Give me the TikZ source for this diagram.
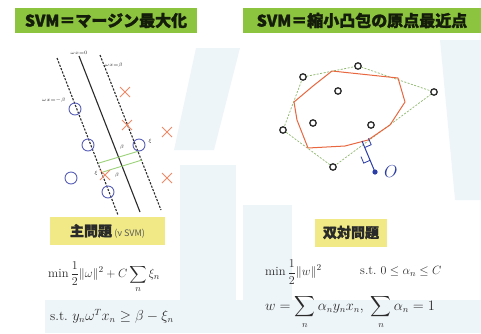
\documentclass[tikz,border=0pt]{standalone}
\usepackage{amsmath}
\usepackage{fontspec}
\usepackage{tikz}
\usetikzlibrary{calc,positioning}
\newfontfamily\jpfont{Noto Sans CJK JP}[FakeBold=1.6]
\newfontfamily\jplight{Noto Sans CJK JP}
\definecolor{titlegreen}{HTML}{8DC43F}
\definecolor{titleink}{HTML}{141C0A}
\definecolor{probyellow}{HTML}{F0E985}
\definecolor{wmblue}{HTML}{EEF5F8}
\definecolor{pointblue}{HTML}{5A5FB8}
\definecolor{crossred}{HTML}{EE8A66}
\definecolor{marginline}{HTML}{9BD27A}
\definecolor{hullred}{HTML}{E8673F}
\definecolor{hullgreen}{HTML}{8CB86A}
\definecolor{originblue}{HTML}{2B3DA6}
\definecolor{inkgray}{HTML}{2A2A2A}
\definecolor{notegray}{HTML}{5A5A5A}
\tikzset{
  titlebar/.style={
    fill=titlegreen,
    text=titleink,
    minimum height=25pt,
    inner sep=0pt,
    font=\jpfont\bfseries\fontsize{16}{18}\selectfont
  },
  probbar/.style={
    fill=probyellow,
    text=inkgray,
    minimum height=28pt,
    inner sep=0pt,
    font=\jpfont\bfseries\fontsize{14}{16}\selectfont
  },
  hyperdash/.style={draw=inkgray, line width=1.1pt, dash pattern=on 2.2pt off 1.4pt},
  hypersolid/.style={draw=inkgray, line width=1.1pt},
  classo/.style={draw=pointblue, line width=0.9pt},
  classx/.style={draw=crossred, line width=0.9pt},
  margingreen/.style={draw=marginline, line width=0.9pt},
  tinylabel/.style={font=\fontsize{5}{6}\selectfont, text=inkgray, inner sep=0.5pt},
  hullpoint/.style={draw=inkgray, line width=1.3pt},
  convexhull/.style={draw=hullgreen, line width=0.7pt, dash pattern=on 2pt off 1.5pt},
  reducedhull/.style={draw=hullred, line width=1pt, line join=round},
  perpline/.style={draw=originblue, line width=1pt},
  formula/.style={anchor=west, text=inkgray, inner sep=0pt, font=\fontsize{12.5}{14}\selectfont}
}

\begin{document}
\begin{tikzpicture}[x=1pt, y=-1pt]
  \useasboundingbox (0,0) rectangle (481,333);
  \fill[white] (0,0) rectangle (481,333);
  % faint background watermark
  \fill[wmblue] (196,48) -- (240,48) -- (214,150) -- (174,150) -- cycle;
  \fill[wmblue] (180,165) -- (236,165) -- (236,333) -- (180,333) -- cycle;
  \fill[wmblue] (243,205) -- (292,205) -- (292,333) -- (243,333) -- cycle;
  \fill[wmblue] (45,300) -- (481,300) -- (481,333) -- (45,333) -- cycle;
  \fill[wmblue] (440,40) -- (481,40) -- (481,200) -- (455,200) -- cycle;

  % titles
  \node[titlebar, minimum width=182pt] (titlemargin) at (106,20.5) {SVM＝マージン最大化};
  \node[titlebar, minimum width=238pt] (titlehull) at (362,20.5) {SVM＝縮小凸包の原点最近点};

  % margin picture
  \coordinate (lminusA) at (57,58);  \coordinate (lminusB) at (118,215);
  \coordinate (lzeroA) at (79,56);   \coordinate (lzeroB) at (140,212);
  \coordinate (lplusA) at (100,55);  \coordinate (lplusB) at (161,210);
  \draw[hyperdash] (lminusA) -- (lminusB);
  \draw[hypersolid] (lzeroA) -- (lzeroB);
  \draw[hyperdash] (lplusA) -- (lplusB);
  \node[tinylabel, above=0.5pt of lzeroA] (labzero) {$\omega x{=}0$};
  \node[tinylabel, right=4pt of lplusA, yshift=-10pt] (labplus) {$\omega x{=}\beta$};
  \node[tinylabel, anchor=east] (labminus) at (66,100) {$\omega x{=}{-}\beta$};
  \draw[margingreen] (99,163) -- (139,151);
  \draw[margingreen] (103,172) -- (142,160);
  \node[tinylabel] (betaup) at (122,147) {$\beta$};
  \node[tinylabel] (betalow) at (117,175) {$\beta$};
  \foreach \x/\y in {75/109, 88/145, 71/178, 108/192, 139/145}
    \draw[classo] (\x,\y) circle (6);
  \foreach \x/\y in {125/92, 127/125, 167/132, 167/178, 105/175}
    \draw[classx] (\x-5,\y-5) -- (\x+5,\y+5) (\x-5,\y+5) -- (\x+5,\y-5);
  \node[tinylabel] (xiright) at (150,141) {$\xi$};
  \node[tinylabel] (xileft) at (96,173) {$\xi$};

  % hull picture
  \foreach \n/\x/\y in {1/303/77, 2/358/66, 3/434/92, 4/338/91, 5/313/123, 6/371/125, 7/283/130, 8/333/167}
    \coordinate (p\n) at (\x,\y);
  \draw[convexhull] (p1) -- (p2) -- (p3) -- (p8) -- (p7) -- cycle;
  \draw[reducedhull] (332,71) -- (398,78) -- (405,102) -- (390,125) -- (368,140) -- (345,146)
    -- (308,148) -- (297,120) -- (294,102) -- (313,86) -- cycle;
  \foreach \n in {1,...,8}
    \draw[hullpoint, fill=white] (p\n) circle (3.2);
  \coordinate (origin) at (375,172);
  \coordinate (foot) at (362,141);
  \draw[perpline] (origin) -- (foot);
  \draw[perpline, line width=0.8pt] (368.5,138.3) -- (371.2,144.7) -- (364.7,147.5);
  \draw[perpline, line width=0.8pt] (361.0,156.6) -- (363.7,163.1) -- (370.1,160.3);
  \fill[originblue] (origin) circle (2.6);
  \node[text=originblue, font=\fontsize{16}{18}\selectfont, anchor=west, inner sep=0pt] (olabel) at (384,172) {$O$};

  % problem boxes
  \node[probbar, minimum width=115pt] (primal) at (107.5,231) {主問題\,{\jplight\mdseries\fontsize{9}{10}\selectfont\color{notegray} (ν SVM)}};
  \node[probbar, minimum width=72pt] (dual) at (351,232.5) {双対問題};

  % formulas
  \node[formula] (primalobj) at (48,277) {$\displaystyle \min\frac{1}{2}\|\omega\|^2+C\sum_n\xi_n$};
  \node[formula, font=\fontsize{13.5}{15}\selectfont] (primalst) at (50,316) {s.t.\ $y_n\omega^{T}x_n\ge\beta-\xi_n$};
  \node[formula] (dualobj) at (265,272) {$\displaystyle \min\frac{1}{2}\|w\|^2$};
  \node[formula] (dualst) at (360,271) {s.t.\ $0\le\alpha_n\le C$};
  \node[formula, font=\fontsize{13.5}{15}\selectfont] (dualw) at (265,312) {$\displaystyle w=\sum_n\alpha_n y_n x_n,\ \sum_n\alpha_n=1$};
\end{tikzpicture}
\end{document}
